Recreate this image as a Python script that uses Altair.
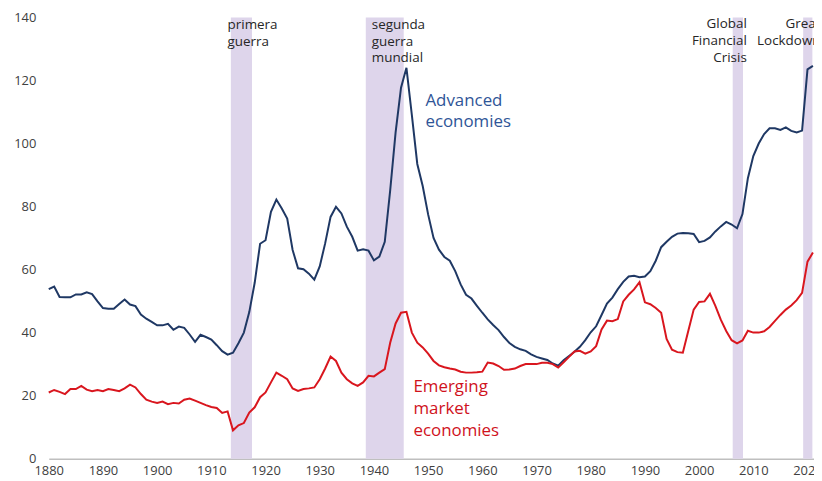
import altair as alt
import pandas as pd

years = list(range(1880, 2022))

advanced = [
    53.8, 54.6, 51.3, 51.2, 51.2, 52.1, 52.1, 52.8, 52.2, 49.9,
    47.8, 47.6, 47.6, 49.1, 50.5, 48.9, 48.4, 45.7, 44.4, 43.4,
    42.3, 42.3, 42.8, 40.9, 41.9, 41.5, 39.4, 37.1, 39.3, 38.6,
    37.8, 36.0, 34.1, 33.0, 33.6, 36.6, 40.0, 46.5, 55.8, 68.2,
    69.3, 78.3, 82.2, 79.4, 76.2, 66.2, 60.4, 60.1, 58.7, 56.8,
    61.0, 68.3, 76.7, 79.9, 77.8, 73.6, 70.4, 66.0, 66.4, 66.0,
    62.9, 64.1, 68.8, 85.1, 103.5, 117.7, 124.0, 109.0, 93.5, 86.5,
    77.5, 70.0, 66.3, 64.0, 62.8, 59.5, 55.3, 52.0, 50.8, 48.5,
    46.3, 44.2, 42.4, 40.8, 38.6, 36.7, 35.5, 34.7, 34.2, 33.1,
    32.3, 31.8, 31.3, 30.2, 29.5, 31.2, 32.6, 33.9, 35.5, 37.6,
    40.1, 42.0, 45.6, 49.2, 51.1, 53.8, 56.1, 57.8, 58.0, 57.6,
    57.8, 59.5, 62.8, 67.1, 68.8, 70.4, 71.4, 71.6, 71.5, 71.3,
    68.7, 69.1, 70.2, 72.1, 73.7, 75.1, 74.3, 73.1, 77.6, 89.0,
    96.0, 100.0, 103.0, 104.8, 104.8, 104.3, 105.1, 104.0, 103.5, 104.1,
    123.5, 124.6,
]

emerging = [
    21.0, 21.8, 21.2, 20.5, 22.1, 22.1, 23.1, 21.9, 21.4, 21.8,
    21.4, 22.1, 21.8, 21.4, 22.3, 23.5, 22.6, 20.5, 18.7, 18.1,
    17.7, 18.1, 17.3, 17.7, 17.5, 18.7, 19.1, 18.4, 17.7, 17.0,
    16.4, 16.1, 14.5, 15.0, 9.0, 10.6, 11.3, 14.6, 16.3, 19.5,
    21.0, 24.2, 27.3, 26.3, 25.2, 22.3, 21.5, 22.1, 22.3, 22.6,
    25.2, 28.6, 32.4, 31.0, 27.3, 25.2, 23.9, 23.1, 24.2, 26.3,
    26.1, 27.3, 28.4, 36.8, 42.9, 46.3, 46.6, 40.0, 36.8, 35.3,
    33.3, 31.0, 29.6, 29.0, 28.6, 28.3, 27.6, 27.3, 27.3, 27.4,
    27.6, 30.5, 30.2, 29.4, 28.2, 28.3, 28.6, 29.4, 30.0, 30.0,
    30.0, 30.4, 30.4, 30.0, 28.9, 30.6, 32.3, 34.0, 34.2, 33.3,
    34.0, 35.7, 41.0, 43.8, 43.6, 44.3, 49.9, 52.0, 53.7, 56.0,
    49.6, 49.0, 47.8, 46.3, 38.0, 34.6, 33.8, 33.6, 40.5, 47.3,
    49.7, 49.9, 52.3, 48.5, 44.1, 40.5, 37.6, 36.6, 37.5, 40.6,
    40.0, 40.0, 40.4, 41.8, 43.7, 45.6, 47.3, 48.6, 50.3, 52.6,
    62.5, 65.4,
]

band_start = [1913.6, 1938.5, 2006.2, 2019.2]
band_end = [1917.5, 1945.5, 2008.1, 2020.9]

ann_text = [
    ["primera", "guerra"],
    ["segunda", "guerra", "mundial"],
    ["Global", "Financial", "Crisis"],
    ["Great", "Lockdown"],
]
ann_x = [1913.0, 1939.6, 2008.8, 2022.4]
ann_y = [137.5, 137.5, 137.8, 137.8]
ann_align = ["left", "left", "right", "right"]

series_text = [["Advanced", "economies"], ["Emerging", "market", "economies"]]
series_x = [1949.5, 1947.3]
series_y = [113.5, 22.6]

FONT = "Open Sans"
BLUE_LINE = "#1f3864"
RED_LINE = "#d9161e"
BLUE_TEXT = "#2f5597"
RED_TEXT = "#d0121c"

df = pd.DataFrame({"year": years, "Advanced": advanced, "Emerging": emerging})
long = df.melt("year", var_name="group", value_name="value")

bands = pd.DataFrame({"start": band_start, "end": band_end, "lo": 0, "hi": 140})

xscale = alt.Scale(domain=[1880, 2021.2], nice=False, zero=False)
yscale = alt.Scale(domain=[0, 140], nice=False)

band_layer = alt.Chart(bands).mark_rect(color="#ded5eb", opacity=1).encode(
    x=alt.X("start:Q", scale=xscale),
    x2="end:Q",
    y=alt.Y("lo:Q", scale=yscale),
    y2="hi:Q",
)

line_layer = alt.Chart(long).mark_line(strokeWidth=2).encode(
    x=alt.X(
        "year:Q",
        scale=xscale,
        axis=alt.Axis(
            values=list(range(1880, 2021, 10)),
            format="d",
            title=None,
            grid=False,
            ticks=False,
            domain=True,
            domainColor="#bfbfbf",
            domainWidth=1.5,
            labelFont=FONT,
            labelFontSize=13,
            labelColor="#404040",
            labelPadding=6,
            labelFlush=False,
        ),
    ),
    y=alt.Y(
        "value:Q",
        scale=yscale,
        axis=alt.Axis(
            values=list(range(0, 141, 20)),
            title=None,
            grid=False,
            ticks=False,
            domain=False,
            labelFont=FONT,
            labelFontSize=13,
            labelColor="#404040",
            labelPadding=13,
        ),
    ),
    color=alt.Color(
        "group:N",
        scale=alt.Scale(domain=["Advanced", "Emerging"], range=[BLUE_LINE, RED_LINE]),
        legend=None,
    ),
)

ann_df = pd.DataFrame({"t": ann_text, "x": ann_x, "y": ann_y, "a": ann_align})
ann_left = alt.Chart(ann_df[ann_df.a == "left"]).mark_text(
    align="left", baseline="middle", font=FONT, fontSize=13.5, lineHeight=16.7, color="#262626"
).encode(x=alt.X("x:Q", scale=xscale), y=alt.Y("y:Q", scale=yscale), text="t")
ann_right = alt.Chart(ann_df[ann_df.a == "right"]).mark_text(
    align="right", baseline="middle", font=FONT, fontSize=13.5, lineHeight=16.7, color="#262626"
).encode(x=alt.X("x:Q", scale=xscale), y=alt.Y("y:Q", scale=yscale), text="t")

adv_lbl = alt.Chart(pd.DataFrame({"t": [series_text[0]], "x": [series_x[0]], "y": [series_y[0]]})).mark_text(
    align="left", baseline="middle", font=FONT, fontSize=17, lineHeight=21, color=BLUE_TEXT
).encode(x=alt.X("x:Q", scale=xscale), y=alt.Y("y:Q", scale=yscale), text="t")
em_lbl = alt.Chart(pd.DataFrame({"t": [series_text[1]], "x": [series_x[1]], "y": [series_y[1]]})).mark_text(
    align="left", baseline="middle", font=FONT, fontSize=17, lineHeight=22, color=RED_TEXT
).encode(x=alt.X("x:Q", scale=xscale), y=alt.Y("y:Q", scale=yscale), text="t")

chart = alt.layer(band_layer, line_layer, ann_left, ann_right, adv_lbl, em_lbl).properties(
    width=770,
    height=444,
    autosize=alt.AutoSizeParams(type="none"),
    padding={"left": 41, "top": 8, "right": 0, "bottom": 22},
    background="white",
).configure_view(stroke=None)

chart.save("out.html", embed_options={"renderer": "svg", "actions": False})
